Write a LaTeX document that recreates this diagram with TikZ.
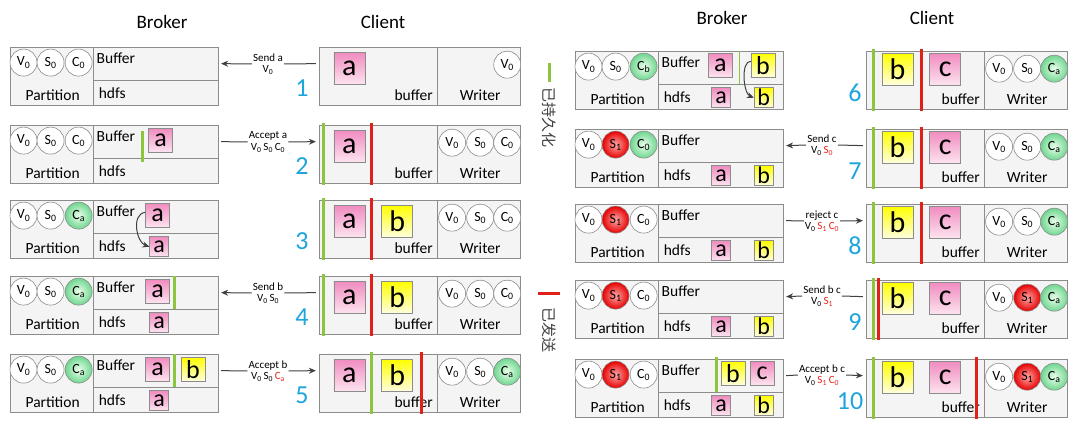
\documentclass[tikz,border=0pt]{standalone}
\usepackage{fontspec}
\setmainfont{Carlito}
\newfontfamily\cjk{Noto Sans CJK SC}
\usetikzlibrary{arrows.meta}
\definecolor{bd}{HTML}{8C8C8C}
\definecolor{boxbg}{HTML}{F4F4F4}
\definecolor{lgreen}{HTML}{8CC63F}
\definecolor{lred}{HTML}{E0201B}
\definecolor{cyanN}{HTML}{1EA5DC}
\definecolor{pinkT}{HTML}{F08CC0}
\definecolor{pinkB}{HTML}{FDE4F0}
\definecolor{cgreen}{HTML}{6FD690}
\definecolor{ink}{HTML}{404040}
\definecolor{redT}{HTML}{E8231E}
\tikzset{
 box/.style={draw=bd, line width=0.8pt},
 circ/.style={circle, draw=bd, line width=0.6pt, minimum size=27pt, inner sep=0pt, font=\fontsize{14}{14}\selectfont},
 cw/.style={circ, fill=white},
 cg/.style={circ, inner color=green!8, outer color=cgreen},
 cr/.style={circ, inner color=red!35, outer color=red!90!black},
 item/.style={draw=bd, anchor=north west, inner sep=0pt, line width=0.6pt},
 pk/.style={top color=pinkT, bottom color=pinkB},
 yl/.style={top color=yellow, bottom color=yellow!12},
 iC/.style={item, minimum width=31pt, minimum height=32pt, font=\fontsize{30}{30}\selectfont},
 iB/.style={item, minimum size=24pt, font=\fontsize{26}{26}\selectfont},
 iH/.style={item, minimum width=19pt, minimum height=20pt, font=\fontsize{24}{24}\selectfont},
 gbar/.style={draw=lgreen, line width=3pt},
 tbar/.style={draw=lgreen, line width=1.5pt},
 rbar/.style={draw=lred, line width=3pt},
 num/.style={text=cyanN, font=\fontsize{26}{26}\selectfont},
 lab/.style={font=\fontsize{11}{11.5}\selectfont, align=center, inner sep=1pt},
 hdr/.style={font=\fontsize{19}{19}\selectfont},
 txt/.style={font=\fontsize{15.5}{15.5}\selectfont},
 conn/.style={draw=ink, line width=1pt},
 arr/.style={conn, -{Stealth[length=7pt,width=6pt]}},
 sc/.style={shift={#1}, scale=1.04},
}
\newcommand\Bk[5]{%
 \draw[box, fill=boxbg] (0,0) rectangle (200,56);
 \draw[box] (80,0)--(80,56) (80,32)--(200,32);
 \node[txt] (#1p) at (41,46) {Partition};
 \node[txt, anchor=west] (#1b) at (80,11) {Buffer};
 \node[txt, anchor=west] (#1h) at (82,44) {hdfs};
 \node[cw] (#1c1) at (13,15) {V\textsubscript{0}};
 \node[#2] (#1c2) at (39,15) {#3};
 \node[#4] (#1c3) at (66,15) {#5};
 \coordinate (#1E) at (203,16);}
\newcommand\Cl[1]{%
 \draw[box, fill=boxbg] (0,0) rectangle (194,56);
 \draw[box] (114,0)--(114,56);
 \node[txt] (#1bu) at (91,46) {buffer};
 \node[txt] (#1wr) at (155,46) {Writer};
 \coordinate (#1W) at (-3,16);}
\newcommand\Vz{V\textsubscript{0}}
\newcommand\Sz{S\textsubscript{0}}
\newcommand\So{S\textsubscript{1}}
\newcommand\Cz{C\textsubscript{0}}
\newcommand\Ca{C\textsubscript{a}}
\begin{document}
\begin{tikzpicture}[x=1pt,y=-1pt]
\useasboundingbox[fill=white] (0,0) rectangle (1080,428);
\node[hdr] (h1) at (162,22) {Broker};
\node[hdr] (h2) at (383,22) {Client};
\node[hdr] (h3) at (722,18) {Broker};
\node[hdr] (h4) at (932,18) {Client};
% legend
\draw[gbar] (549,63)--(549,82);
\node[rotate=-90, font=\cjk\fontsize{15}{15}\selectfont, text=ink] (lg1) at (549,118) {已持久化};
\draw[rbar] (538,293)--(560,293);
\node[rotate=-90, font=\cjk\fontsize{15}{15}\selectfont, text=ink] (lg2) at (549,330) {已发送};
% ---- row 1
\begin{scope}[sc={(10,47)}]\Bk{b1}{cw}{\Sz}{cw}{\Cz}\end{scope}
\begin{scope}[sc={(319,47)}]\Cl{k1}
 \node[iC,pk] (k1a) at (14,5) {a};
 \node[cw] (k1w3) at (181,17) {\Vz};
\end{scope}
\node[lab] (l1) at (268,64) {Send a\\\Vz};
\draw[conn] (k1W) -- (l1.east); \draw[arr] (l1.west) -- (b1E);
\node[num] (n1) at (302,88) {1};
% ---- row 2
\begin{scope}[sc={(10,125)}]\Bk{b2}{cw}{\Sz}{cw}{\Cz}
 \draw[gbar] (127,6)--(127,36);
 \node[iB,pk] (b2a) at (133,3) {a};
\end{scope}
\begin{scope}[sc={(319,125)}]\Cl{k2}
 \draw[gbar] (4,-2)--(4,58);
 \node[iC,pk] (k2a) at (14,5) {a};
 \draw[rbar] (50,-2)--(50,58);
 \node[cw] (k2w1) at (128,17) {\Vz};\node[cw] (k2w2) at (155,17) {\Sz};\node[cw] (k2w3) at (181,17) {\Cz};
\end{scope}
\node[lab] (l2) at (268,142) {Accept a\\\Vz\,\Sz\,\Cz};
\draw[conn] (b2E) -- (l2.west); \draw[arr] (l2.east) -- (k2W);
\node[num] (n2) at (302,166) {2};
% ---- row 3
\begin{scope}[sc={(10,200)}]\Bk{b3}{cw}{\Sz}{cg}{\Ca}
 \node[iB,pk] (b3a) at (130,3) {a};
 \node[iH,pk] (b3h) at (134,35) {a};
 \draw[arr] ([yshift=3pt]b3a.west) .. controls +(-14,2) and +(-12,-4) .. (b3h.west);
\end{scope}
\begin{scope}[sc={(319,200)}]\Cl{k3}
 \draw[gbar] (4,-2)--(4,58);
 \node[iC,pk] (k3a) at (14,5) {a};
 \draw[rbar] (50,-2)--(50,58);
 \node[iC,yl] (k3b) at (60,5) {b};
 \node[cw] (k3w1) at (128,17) {\Vz};\node[cw] (k3w2) at (155,17) {\Sz};\node[cw] (k3w3) at (181,17) {\Cz};
\end{scope}
\node[num] (n3) at (302,241) {3};
% ---- row 4
\begin{scope}[sc={(10,276)}]\Bk{b4}{cw}{\Sz}{cg}{\Ca}
 \node[iB,pk] (b4a) at (130,3) {a};
 \draw[gbar] (158,0)--(158,32);
 \node[iH,pk] (b4h) at (134,35) {a};
\end{scope}
\begin{scope}[sc={(319,276)}]\Cl{k4}
 \draw[gbar] (4,-2)--(4,58);
 \node[iC,pk] (k4a) at (14,5) {a};
 \draw[rbar] (50,-2)--(50,58);
 \node[iC,yl] (k4b) at (60,5) {b};
 \node[cw] (k4w1) at (128,17) {\Vz};\node[cw] (k4w2) at (155,17) {\Sz};\node[cw] (k4w3) at (181,17) {\Cz};
\end{scope}
\node[lab] (l4) at (268,293) {Send b\\\Vz\,\Sz};
\draw[conn] (k4W) -- (l4.east); \draw[arr] (l4.west) -- (b4E);
\node[num] (n4) at (302,317) {4};
% ---- row 5
\begin{scope}[sc={(10,354)}]\Bk{b5}{cw}{\Sz}{cg}{\Ca}
 \node[iB,pk] (b5a) at (130,3) {a};
 \draw[gbar] (158,0)--(158,32);
 \node[iB,yl] (b5b) at (164,3) {b};
 \node[iH,pk] (b5h) at (134,35) {a};
\end{scope}
\begin{scope}[sc={(319,354)}]\Cl{k5}
 \node[iC,pk] (k5a) at (14,5) {a};
 \draw[gbar] (50,-2)--(50,58);
 \node[iC,yl] (k5b) at (60,5) {b};
 \draw[rbar] (99,-2)--(99,58);
 \node[cw] (k5w1) at (128,17) {\Vz};\node[cw] (k5w2) at (155,17) {\Sz};\node[cg] (k5w3) at (181,17) {\Ca};
\end{scope}
\node[lab] (l5) at (268,371) {Accept b\\\Vz\,\Sz\,{\color{redT}\Ca}};
\draw[conn] (b5E) -- (l5.west); \draw[arr] (l5.east) -- (k5W);
\node[num] (n5) at (302,395) {5};
% ---- row 6
\begin{scope}[sc={(575,51)}]\Bk{b6}{cw}{\Sz}{cg}{C\textsubscript{b}}
 \node[iB,pk] (b6a) at (128,2) {a};
 \draw[tbar] (158,0)--(158,32);
 \node[iB,yl] (b6b) at (169,2) {b};
 \node[iH,pk] (b6ha) at (131,35) {a};
 \node[iH,yl] (b6hb) at (172,35) {b};
 \draw[arr] ([yshift=4pt]b6b.west) .. controls +(-10,0) and +(-10,-4) .. (b6hb.west);
\end{scope}
\begin{scope}[sc={(866,51)}]\Cl{k6}
 \draw[gbar] (7,-2)--(7,58);
 \node[iC,yl] (k6b) at (15,2) {b};
 \draw[rbar] (53,-2)--(53,58);
 \node[iC,pk] (k6c) at (61,2) {c};
 \node[cw] (k6w1) at (128,17) {\Vz};\node[cw] (k6w2) at (155,17) {\Sz};\node[cg] (k6w3) at (181,17) {\Ca};
\end{scope}
\node[num] (n6) at (855,93) {6};
% ---- row 7
\begin{scope}[sc={(575,129)}]\Bk{b7}{cr}{\So}{cg}{\Cz}
 \node[iH,pk] (b7ha) at (131,35) {a};
 \node[iH,yl] (b7hb) at (172,35) {b};
\end{scope}
\begin{scope}[sc={(866,129)}]\Cl{k7}
 \draw[gbar] (7,-2)--(7,58);
 \node[iC,yl] (k7b) at (15,2) {b};
 \draw[rbar] (53,-2)--(53,58);
 \node[iC,pk] (k7c) at (61,2) {c};
 \node[cw] (k7w1) at (128,17) {\Vz};\node[cw] (k7w2) at (155,17) {\Sz};\node[cg] (k7w3) at (181,17) {\Ca};
\end{scope}
\node[lab] (l7) at (822,145) {Send c\\\Vz\,{\color{redT}\Sz}};
\draw[conn] (k7W) -- (l7.east); \draw[arr] (l7.west) -- (b7E);
\node[num] (n7) at (855,171) {7};
% ---- row 8
\begin{scope}[sc={(575,204)}]\Bk{b8}{cr}{\So}{cw}{\Cz}
 \node[iH,pk] (b8ha) at (131,35) {a};
 \node[iH,yl] (b8hb) at (172,35) {b};
\end{scope}
\begin{scope}[sc={(866,204)}]\Cl{k8}
 \draw[gbar] (7,-2)--(7,58);
 \node[iC,yl] (k8b) at (15,2) {b};
 \draw[rbar] (53,-2)--(53,58);
 \node[iC,pk] (k8c) at (61,2) {c};
 \node[cw] (k8w1) at (128,17) {\Vz};\node[cw] (k8w2) at (155,17) {\Sz};\node[cg] (k8w3) at (181,17) {\Ca};
\end{scope}
\node[lab] (l8) at (822,221) {reject c\\\Vz\,{\color{redT}\So\,\Cz}};
\draw[conn] (b8E) -- (l8.west); \draw[arr] (l8.east) -- (k8W);
\node[num] (n8) at (855,246) {8};
% ---- row 9
\begin{scope}[sc={(575,280)}]\Bk{b9}{cr}{\So}{cw}{\Cz}
 \node[iH,pk] (b9ha) at (131,35) {a};
 \node[iH,yl] (b9hb) at (172,35) {b};
\end{scope}
\begin{scope}[sc={(866,280)}]\Cl{k9}
 \draw[gbar] (7,-2)--(7,58);
 \draw[rbar] (12,-2)--(12,58);
 \node[iC,yl] (k9b) at (15,2) {b};
 \node[iC,pk] (k9c) at (61,2) {c};
 \node[cw] (k9w1) at (128,17) {\Vz};\node[cr] (k9w2) at (155,17) {\So};\node[cg] (k9w3) at (181,17) {\Ca};
\end{scope}
\node[lab] (l9) at (822,296) {Send b c\\\Vz\,{\color{redT}\So}};
\draw[conn] (k9W) -- (l9.east); \draw[arr] (l9.west) -- (b9E);
\node[num] (n9) at (855,322) {9};
% ---- row 10
\begin{scope}[sc={(575,359)}]\Bk{b10}{cr}{\So}{cw}{\Cz}
 \draw[gbar] (136,-2)--(136,32);
 \node[iB,yl] (b10b) at (140,2) {b};
 \node[iB,pk] (b10c) at (168,2) {c};
 \node[iH,pk] (b10ha) at (131,35) {a};
 \node[iH,yl] (b10hb) at (172,35) {b};
\end{scope}
\begin{scope}[sc={(866,359)}]\Cl{k10}
 \draw[gbar] (7,-2)--(7,58);
 \node[iC,yl] (k10b) at (15,2) {b};
 \node[iC,pk] (k10c) at (61,2) {c};
 \draw[rbar] (106,-2)--(106,58);
 \node[cw] (k10w1) at (128,17) {\Vz};\node[cr] (k10w2) at (155,17) {\So};\node[cg] (k10w3) at (181,17) {\Ca};
\end{scope}
\node[lab] (l10) at (822,375) {Accept b c\\\Vz\,{\color{redT}\So\,\Cz}};
\draw[conn] (b10E) -- (l10.west); \draw[arr] (l10.east) -- (k10W);
\node[num] (n10) at (850,401) {10};
\end{tikzpicture}
\end{document}
